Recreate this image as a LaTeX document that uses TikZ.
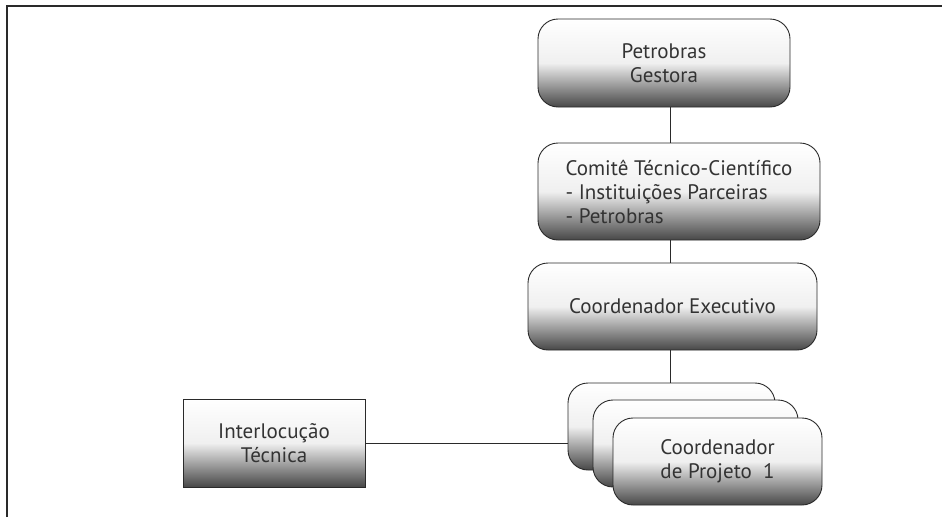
\documentclass[tikz,border=0pt]{standalone}
\usepackage{fontspec}
\setmainfont{PT Sans}
\usepackage{tikz}
\usetikzlibrary{positioning}
\definecolor{textgray}{HTML}{333333}
\definecolor{edgegray}{HTML}{2A2A2A}

\tikzset{
  orgbox/.style={draw=edgegray, line width=0.9pt, rounded corners=20pt,
    top color=white, bottom color=black!72, middle color=black!6,
    text=textgray, font=\fontsize{21}{24}\selectfont, align=center,
    inner sep=0pt},
  flatbox/.style={orgbox, rounded corners=0pt},
  link/.style={draw=edgegray, line width=0.9pt}
}

\begin{document}
\begin{tikzpicture}[x=1pt,y=-1pt]
\useasboundingbox (0,0) rectangle (942,517);
  % frame
  \draw[line width=1.6pt, edgegray] (7,517) -- (7,6) -- (942,6);

\node[orgbox, minimum width=252pt, minimum height=88pt] (pet) at (664,63) {Petrobras\\Gestora};
\node[orgbox, minimum width=282pt, minimum height=97pt, align=left] (com) at (679,191.5)
  {Comitê Técnico-Científico\\ - Instituições Parceiras\\ - Petrobras};
\node[orgbox, minimum width=289pt, minimum height=87pt] (exe) at (672.5,306.5) {Coordenador Executivo};

% stack of project coordinators
\node[orgbox, minimum width=207pt, minimum height=87pt] (proj3) at (671.5,426.5) {};
\node[orgbox, minimum width=205pt, minimum height=87pt] (proj2) at (695.5,443.5) {};
\node[orgbox, minimum width=209pt, minimum height=87pt] (proj1) at (717.5,461.5) {Coordenador\\de Projeto~~1};

\node[flatbox, minimum width=182pt, minimum height=88pt] (intl) at (274,443) {Interlocução\\Técnica};

\coordinate (axis) at (670,0);
\draw[link] (pet.south -| axis) -- (com.north -| axis);
\draw[link] (com.south -| axis) -- (exe.north -| axis);
\draw[link] (exe.south -| axis) -- (proj3.north -| axis);
\draw[link] (intl.east) -- (intl.east -| proj3.west);

\end{tikzpicture}
\end{document}
